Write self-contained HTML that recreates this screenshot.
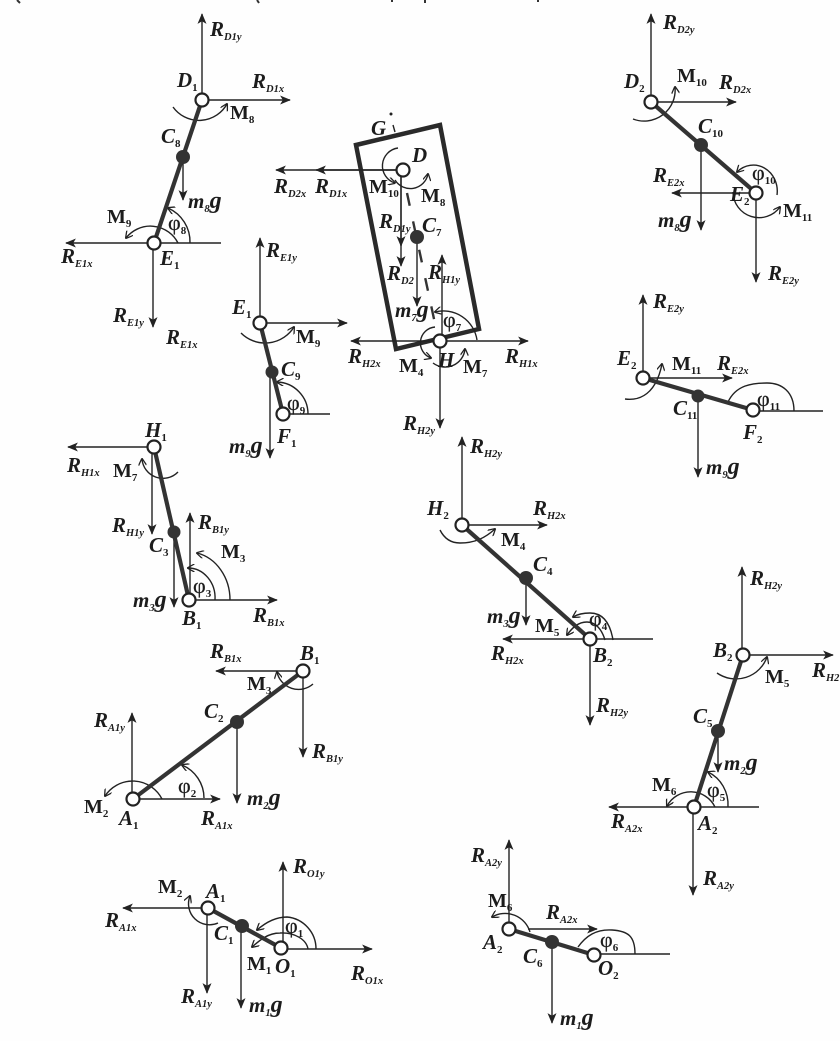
<!DOCTYPE html>
<html><head><meta charset="utf-8"><style>
html,body{margin:0;padding:0;background:#fefefe;width:840px;height:1041px;overflow:hidden}
svg{display:block;filter:blur(.35px)}
text{font-family:"Liberation Serif",serif;fill:#1c1c1c;font-weight:bold}
.r{font-style:italic;font-size:21px}
.p{font-style:italic;font-size:21px}
.m{font-size:20px}
.f{font-size:22px;font-weight:normal;stroke:#1c1c1c;stroke-width:.25px}
.f .n{font-weight:bold;stroke:none}
.g{font-style:italic;font-size:21px}
.g .b{font-size:24px}
.s{font-size:10.5px;font-style:italic}
.n{font-size:11px;font-style:normal}
.a{fill:none;stroke:#222;stroke-width:1.4}
.l{stroke:#222;stroke-width:1.4;fill:none}
.k{stroke:#333;stroke-width:4.2;fill:none}
.o{fill:#fff;stroke:#222;stroke-width:2.2}
.c{fill:#333}
</style></head><body>
<svg width="840" height="1041" viewBox="0 0 840 1041" xmlns="http://www.w3.org/2000/svg">
<defs>
<marker id="h" viewBox="0 0 12 10" refX="11" refY="5" markerWidth="11" markerHeight="9" markerUnits="userSpaceOnUse" orient="auto"><path d="M0 0L12 5L0 10L3 5Z" fill="#222"/></marker>
<marker id="t" viewBox="0 0 10 10" refX="9" refY="5" markerWidth="8" markerHeight="8" markerUnits="userSpaceOnUse" orient="auto"><path d="M1 0L10 5L1 10" fill="none" stroke="#222" stroke-width="1.6"/></marker>
</defs>

<!-- top edge fragments -->
<path d="M17 0L20 3M257 0L259 3M392 0V2M425 0V3M538 0V2" stroke="#333" stroke-width="2" fill="none"/>

<!-- Panel D1-E1 -->
<g class="l">
<path d="M202 100V14" marker-end="url(#h)"/><path d="M202 100H290" marker-end="url(#h)"/>
<path d="M183 157V200" marker-end="url(#h)"/><path d="M154 243H66" marker-end="url(#h)"/>
<path d="M153 243V327" marker-end="url(#h)"/><path d="M154 243H221"/>
<path d="M173 107A32 32 0 0 0 227 104" marker-end="url(#t)"/>
<path d="M190 243A37 37 0 0 0 168 208" marker-end="url(#t)"/>
<path d="M178 243A31 31 0 0 0 126 238" marker-end="url(#t)"/>
</g>
<path class="k" d="M202 100L154 243"/><circle class="c" cx="183" cy="157" r="7"/>
<circle class="o" cx="202" cy="100" r="6.5"/><circle class="o" cx="154" cy="243" r="6.5"/>
<text class="r" x="210" y="36">R<tspan class="s" dy="4">D1y</tspan></text>
<text class="p" x="177" y="87">D<tspan class="n" dy="4">1</tspan></text>
<text class="r" x="252" y="88">R<tspan class="s" dy="4">D1x</tspan></text>
<text class="m" x="230" y="119">M<tspan class="n" dy="4">8</tspan></text>
<text class="p" x="161" y="143">C<tspan class="n" dy="4">8</tspan></text>
<text class="g" x="188" y="208">m<tspan class="s" dy="4">8</tspan><tspan class="b" dy="-4">g</tspan></text>
<text class="m" x="107" y="223">M<tspan class="n" dy="4">9</tspan></text>
<text class="f" x="168" y="230">φ<tspan class="n" dy="4">8</tspan></text>
<text class="r" x="61" y="263">R<tspan class="s" dy="4">E1x</tspan></text>
<text class="p" x="160" y="265">E<tspan class="n" dy="4">1</tspan></text>
<text class="r" x="113" y="322">R<tspan class="s" dy="4">E1y</tspan></text>
<text class="r" x="166" y="344">R<tspan class="s" dy="4">E1x</tspan></text>

<!-- Panel E1-F1 -->
<g class="l">
<path d="M260 323V238" marker-end="url(#h)"/><path d="M260 323H347" marker-end="url(#h)"/>
<path d="M283 414H330"/><path d="M270 372V458" marker-end="url(#h)"/>
<path d="M241 333A34 34 0 0 0 294 327" marker-end="url(#t)"/>
<path d="M308 414A32 32 0 0 0 277 382" marker-end="url(#t)"/>
</g>
<path class="k" d="M260 323L283 414"/><circle class="c" cx="272" cy="372" r="6.5"/>
<circle class="o" cx="260" cy="323" r="6.5"/><circle class="o" cx="283" cy="414" r="6.5"/>
<text class="r" x="266" y="257">R<tspan class="s" dy="4">E1y</tspan></text>
<text class="p" x="232" y="314">E<tspan class="n" dy="4">1</tspan></text>
<text class="m" x="296" y="343">M<tspan class="n" dy="4">9</tspan></text>
<text class="p" x="281" y="376">C<tspan class="n" dy="4">9</tspan></text>
<text class="f" x="287" y="410">φ<tspan class="n" dy="4">9</tspan></text>
<text class="p" x="277" y="443">F<tspan class="n" dy="4">1</tspan></text>
<text class="g" x="229" y="453">m<tspan class="s" dy="4">9</tspan><tspan class="b" dy="-4">g</tspan></text>

<!-- Central body -->
<path d="M356 145L440 125L479 329L396 349Z" fill="none" stroke="#2a2a2a" stroke-width="4.5"/>
<circle cx="391" cy="114" r="1.5" fill="#222"/><path d="M393 125L395 132" class="l"/>
<path d="M407 193L437 333" stroke="#333" stroke-width="2.4" stroke-dasharray="13 16" fill="none"/>
<g class="l">
<path d="M403 170H276" marker-end="url(#h)"/><path d="M403 170H316" marker-end="url(#h)"/>
<path d="M401 172V266" marker-end="url(#h)"/><path d="M401 172V246" marker-end="url(#h)"/>
<path d="M417 237V306" marker-end="url(#h)"/>
<path d="M442 341V255" marker-end="url(#h)"/>
<path d="M440 341H351" marker-end="url(#h)"/><path d="M440 341H528" marker-end="url(#h)"/>
<path d="M440 341V428" marker-end="url(#h)"/>
<path d="M398 148A18 18 0 0 0 395 183" marker-end="url(#t)"/>
<path d="M395 180A18 18 0 0 0 428 174" marker-end="url(#t)"/>
<path d="M477 340A34 34 0 0 0 435 312" marker-end="url(#t)"/>
<path d="M435 327A16 16 0 0 0 431 358" marker-end="url(#t)"/>
<path d="M433 363A20 20 0 0 0 465 349" marker-end="url(#t)"/>
</g>
<circle class="c" cx="417" cy="237" r="7"/>
<circle class="o" cx="403" cy="170" r="6.5"/><circle class="o" cx="440" cy="341" r="6.5"/>
<text class="p" x="371" y="135">G</text>
<text class="p" x="412" y="162">D</text>
<text class="r" x="274" y="193">R<tspan class="s" dy="4">D2x</tspan></text>
<text class="r" x="315" y="193">R<tspan class="s" dy="4">D1x</tspan></text>
<text class="m" x="369" y="193">M<tspan class="n" dy="4">10</tspan></text>
<text class="m" x="421" y="202">M<tspan class="n" dy="4">8</tspan></text>
<text class="r" x="379" y="228">R<tspan class="s" dy="4">D1y</tspan></text>
<text class="p" x="422" y="232">C<tspan class="n" dy="4">7</tspan></text>
<text class="r" x="387" y="280">R<tspan class="s" dy="4">D2</tspan></text>
<text class="r" x="428" y="279">R<tspan class="s" dy="4">H1y</tspan></text>
<text class="g" x="395" y="317">m<tspan class="s" dy="4">7</tspan><tspan class="b" dy="-4">g</tspan></text>
<text class="f" x="443" y="327">φ<tspan class="n" dy="4">7</tspan></text>
<text class="r" x="348" y="363">R<tspan class="s" dy="4">H2x</tspan></text>
<text class="r" x="505" y="363">R<tspan class="s" dy="4">H1x</tspan></text>
<text class="p" x="438" y="367">H</text>
<text class="m" x="399" y="372">M<tspan class="n" dy="4">4</tspan></text>
<text class="m" x="463" y="373">M<tspan class="n" dy="4">7</tspan></text>
<text class="r" x="403" y="430">R<tspan class="s" dy="4">H2y</tspan></text>

<!-- Panel D2-E2 -->
<g class="l">
<path d="M651 102V14" marker-end="url(#h)"/><path d="M651 102H736" marker-end="url(#h)"/>
<path d="M701 145V230" marker-end="url(#h)"/><path d="M756 193H672" marker-end="url(#h)"/>
<path d="M756 193V282" marker-end="url(#h)"/>
<path d="M633 119A31 31 0 0 0 675 87" marker-end="url(#t)"/>
<path d="M777 195A24 26 0 0 0 737 172" marker-end="url(#t)"/>
<path d="M733 192A26 26 0 0 0 780 207" marker-end="url(#t)"/>
</g>
<path class="k" d="M651 102L756 193"/><circle class="c" cx="701" cy="145" r="7"/>
<circle class="o" cx="651" cy="102" r="6.5"/><circle class="o" cx="756" cy="193" r="6.5"/>
<text class="r" x="663" y="29">R<tspan class="s" dy="4">D2y</tspan></text>
<text class="p" x="624" y="88">D<tspan class="n" dy="4">2</tspan></text>
<text class="m" x="677" y="82">M<tspan class="n" dy="4">10</tspan></text>
<text class="r" x="719" y="89">R<tspan class="s" dy="4">D2x</tspan></text>
<text class="p" x="698" y="133">C<tspan class="n" dy="4">10</tspan></text>
<text class="f" x="752" y="180">φ<tspan class="n" dy="4">10</tspan></text>
<text class="r" x="653" y="182">R<tspan class="s" dy="4">E2x</tspan></text>
<text class="p" x="730" y="201">E<tspan class="n" dy="4">2</tspan></text>
<text class="g" x="658" y="227">m<tspan class="s" dy="4">8</tspan><tspan class="b" dy="-4">g</tspan></text>
<text class="m" x="783" y="217">M<tspan class="n" dy="4">11</tspan></text>
<text class="r" x="768" y="280">R<tspan class="s" dy="4">E2y</tspan></text>

<!-- Panel E2-F2 -->
<g class="l">
<path d="M643 378V295" marker-end="url(#h)"/><path d="M643 378H732" marker-end="url(#h)"/>
<path d="M753 411H823"/><path d="M698 396V477" marker-end="url(#h)"/>
<path d="M625 399C640 401 656 394 662 364" marker-end="url(#t)"/>
<path d="M794 411C794 392 782 383 767 383C752 383 736 385 728 402"/>
</g>
<path class="k" d="M643 378L753 410"/><circle class="c" cx="698" cy="396" r="6.5"/>
<circle class="o" cx="643" cy="378" r="6.5"/><circle class="o" cx="753" cy="410" r="6.5"/>
<text class="r" x="653" y="308">R<tspan class="s" dy="4">E2y</tspan></text>
<text class="p" x="617" y="365">E<tspan class="n" dy="4">2</tspan></text>
<text class="m" x="672" y="370">M<tspan class="n" dy="4">11</tspan></text>
<text class="r" x="717" y="370">R<tspan class="s" dy="4">E2x</tspan></text>
<text class="p" x="673" y="415">C<tspan class="n" dy="4">11</tspan></text>
<text class="f" x="757" y="406">φ<tspan class="n" dy="4">11</tspan></text>
<text class="p" x="743" y="439">F<tspan class="n" dy="4">2</tspan></text>
<text class="g" x="706" y="474">m<tspan class="s" dy="4">9</tspan><tspan class="b" dy="-4">g</tspan></text>

<!-- Panel H1-B1 -->
<g class="l">
<path d="M154 447H68" marker-end="url(#h)"/><path d="M152 448V534" marker-end="url(#h)"/>
<path d="M190 600V513" marker-end="url(#h)"/><path d="M174 532V607" marker-end="url(#h)"/>
<path d="M189 600H277" marker-end="url(#h)"/>
<path d="M215 600A27 30 0 0 0 188 568" marker-end="url(#t)"/>
<path d="M230 600A42 48 0 0 0 197 553" marker-end="url(#t)"/>
<path d="M178 472A21 21 0 0 1 142 459" marker-end="url(#t)"/>
</g>
<path class="k" d="M154 447L189 600"/><circle class="c" cx="174" cy="532" r="6.5"/>
<circle class="o" cx="154" cy="447" r="6.5"/><circle class="o" cx="189" cy="600" r="6.5"/>
<text class="p" x="145" y="437">H<tspan class="n" dy="4">1</tspan></text>
<text class="r" x="67" y="472">R<tspan class="s" dy="4">H1x</tspan></text>
<text class="m" x="113" y="477">M<tspan class="n" dy="4">7</tspan></text>
<text class="r" x="112" y="532">R<tspan class="s" dy="4">H1y</tspan></text>
<text class="p" x="149" y="552">C<tspan class="n" dy="4">3</tspan></text>
<text class="r" x="198" y="529">R<tspan class="s" dy="4">B1y</tspan></text>
<text class="m" x="221" y="558">M<tspan class="n" dy="4">3</tspan></text>
<text class="f" x="193" y="593">φ<tspan class="n" dy="4">3</tspan></text>
<text class="g" x="133" y="607">m<tspan class="s" dy="4">3</tspan><tspan class="b" dy="-4">g</tspan></text>
<text class="p" x="182" y="625">B<tspan class="n" dy="4">1</tspan></text>
<text class="r" x="253" y="622">R<tspan class="s" dy="4">B1x</tspan></text>

<!-- Panel A1-B1 -->
<g class="l">
<path d="M303 671H216" marker-end="url(#h)"/><path d="M303 671V757" marker-end="url(#h)"/>
<path d="M237 722V803" marker-end="url(#h)"/><path d="M132 799V713" marker-end="url(#h)"/>
<path d="M133 799H220" marker-end="url(#h)"/>
<path d="M204 798A36 36 0 0 0 182 765" marker-end="url(#t)"/>
<path d="M162 799A33 33 0 0 0 105 796" marker-end="url(#t)"/>
<path d="M313 684A22 22 0 0 1 277 672" marker-end="url(#t)"/>
</g>
<path class="k" d="M303 671L133 799"/><circle class="c" cx="237" cy="722" r="7"/>
<circle class="o" cx="303" cy="671" r="6.5"/><circle class="o" cx="133" cy="799" r="6.5"/>
<text class="r" x="210" y="658">R<tspan class="s" dy="4">B1x</tspan></text>
<text class="p" x="300" y="660">B<tspan class="n" dy="4">1</tspan></text>
<text class="m" x="247" y="690">M<tspan class="n" dy="4">3</tspan></text>
<text class="p" x="204" y="718">C<tspan class="n" dy="4">2</tspan></text>
<text class="r" x="312" y="758">R<tspan class="s" dy="4">B1y</tspan></text>
<text class="r" x="94" y="727">R<tspan class="s" dy="4">A1y</tspan></text>
<text class="f" x="178" y="793">φ<tspan class="n" dy="4">2</tspan></text>
<text class="g" x="247" y="805">m<tspan class="s" dy="4">2</tspan><tspan class="b" dy="-4">g</tspan></text>
<text class="m" x="84" y="813">M<tspan class="n" dy="4">2</tspan></text>
<text class="p" x="119" y="825">A<tspan class="n" dy="4">1</tspan></text>
<text class="r" x="201" y="825">R<tspan class="s" dy="4">A1x</tspan></text>

<!-- Panel A1-O1 -->
<g class="l">
<path d="M208 908H123" marker-end="url(#h)"/><path d="M207 910V993" marker-end="url(#h)"/>
<path d="M241 928V1008" marker-end="url(#h)"/><path d="M283 948V862" marker-end="url(#h)"/>
<path d="M281 949H372" marker-end="url(#h)"/>
<path d="M316 949A32 32 0 0 0 287 917C275 917 265 923 257 930" marker-end="url(#t)"/>
<path d="M308 949A26 18 0 0 0 280 933C268 933 260 940 252 947" marker-end="url(#t)"/>
<path d="M218 923A21 21 0 0 1 190 896" marker-end="url(#t)"/>
</g>
<path class="k" d="M208 908L281 948"/><circle class="c" cx="242" cy="926" r="7"/>
<circle class="o" cx="208" cy="908" r="6.5"/><circle class="o" cx="281" cy="948" r="6.5"/>
<text class="r" x="293" y="873">R<tspan class="s" dy="4">O1y</tspan></text>
<text class="m" x="158" y="893">M<tspan class="n" dy="4">2</tspan></text>
<text class="p" x="206" y="898">A<tspan class="n" dy="4">1</tspan></text>
<text class="r" x="105" y="927">R<tspan class="s" dy="4">A1x</tspan></text>
<text class="p" x="214" y="940">C<tspan class="n" dy="4">1</tspan></text>
<text class="f" x="285" y="933">φ<tspan class="n" dy="4">1</tspan></text>
<text class="m" x="247" y="970">M<tspan class="n" dy="4">1</tspan></text>
<text class="p" x="275" y="973">O<tspan class="n" dy="4">1</tspan></text>
<text class="r" x="351" y="980">R<tspan class="s" dy="4">O1x</tspan></text>
<text class="r" x="181" y="1003">R<tspan class="s" dy="4">A1y</tspan></text>
<text class="g" x="249" y="1012">m<tspan class="s" dy="4">1</tspan><tspan class="b" dy="-4">g</tspan></text>

<!-- Panel A2-O2 -->
<g class="l">
<path d="M509 929V840" marker-end="url(#h)"/><path d="M528 929H597" marker-end="url(#h)"/>
<path d="M552 942V1023" marker-end="url(#h)"/><path d="M594 954H670"/>
<path d="M635 954C635 936 628 931 612 930C596 929 586 936 578 947"/>
<path d="M530 932A26 26 0 0 0 492 917" marker-end="url(#t)"/>
</g>
<path class="k" d="M509 929L594 955"/><circle class="c" cx="552" cy="942" r="7"/>
<circle class="o" cx="509" cy="929" r="6.5"/><circle class="o" cx="594" cy="955" r="6.5"/>
<text class="r" x="471" y="862">R<tspan class="s" dy="4">A2y</tspan></text>
<text class="m" x="488" y="907">M<tspan class="n" dy="4">6</tspan></text>
<text class="r" x="546" y="919">R<tspan class="s" dy="4">A2x</tspan></text>
<text class="p" x="483" y="949">A<tspan class="n" dy="4">2</tspan></text>
<text class="p" x="523" y="963">C<tspan class="n" dy="4">6</tspan></text>
<text class="f" x="600" y="947">φ<tspan class="n" dy="4">6</tspan></text>
<text class="p" x="598" y="975">O<tspan class="n" dy="4">2</tspan></text>
<text class="g" x="560" y="1025">m<tspan class="s" dy="4">1</tspan><tspan class="b" dy="-4">g</tspan></text>

<!-- Panel B2-A2 -->
<g class="l">
<path d="M742 655V567" marker-end="url(#h)"/><path d="M743 655H833" marker-end="url(#h)"/>
<path d="M717 673A33 33 0 0 0 767 657" marker-end="url(#t)"/>
<path d="M694 807H609" marker-end="url(#h)"/><path d="M694 807H759"/>
<path d="M693 807V895" marker-end="url(#h)"/><path d="M718 733V772" marker-end="url(#h)"/>
<path d="M728 807A34 36 0 0 0 708 772" marker-end="url(#t)"/>
<path d="M715 807A27 27 0 0 0 667 806" marker-end="url(#t)"/>
</g>
<path class="k" d="M743 655L694 807"/><circle class="c" cx="718" cy="731" r="7"/>
<circle class="o" cx="743" cy="655" r="6.5"/><circle class="o" cx="694" cy="807" r="6.5"/>
<text class="r" x="750" y="585">R<tspan class="s" dy="4">H2y</tspan></text>
<text class="p" x="713" y="657">B<tspan class="n" dy="4">2</tspan></text>
<text class="m" x="765" y="683">M<tspan class="n" dy="4">5</tspan></text>
<text class="r" x="812" y="677">R<tspan class="s" dy="4">H2</tspan></text>
<text class="p" x="693" y="723">C<tspan class="n" dy="4">5</tspan></text>
<text class="g" x="724" y="770">m<tspan class="s" dy="4">2</tspan><tspan class="b" dy="-4">g</tspan></text>
<text class="m" x="652" y="791">M<tspan class="n" dy="4">6</tspan></text>
<text class="f" x="707" y="797">φ<tspan class="n" dy="4">5</tspan></text>
<text class="r" x="611" y="828">R<tspan class="s" dy="4">A2x</tspan></text>
<text class="p" x="698" y="830">A<tspan class="n" dy="4">2</tspan></text>
<text class="r" x="703" y="885">R<tspan class="s" dy="4">A2y</tspan></text>

<!-- Panel H2-B2 -->
<g class="l">
<path d="M462 525V437" marker-end="url(#h)"/><path d="M462 525H547" marker-end="url(#h)"/>
<path d="M526 578V625" marker-end="url(#h)"/><path d="M590 639H503" marker-end="url(#h)"/>
<path d="M590 639H653"/><path d="M590 639V725" marker-end="url(#h)"/>
<path d="M613 640C610 622 602 613 590 613C583 613 578 614 573 617" marker-end="url(#t)"/>
<path d="M605 640C602 630 596 622 587 622C578 622 572 628 567 635" marker-end="url(#t)"/>
<path d="M440 530C445 540 452 543 460 543C475 543 485 538 495 529" marker-end="url(#t)"/>
</g>
<path class="k" d="M462 525L590 639"/><circle class="c" cx="526" cy="578" r="7"/>
<circle class="o" cx="462" cy="525" r="6.5"/><circle class="o" cx="590" cy="639" r="6.5"/>
<text class="r" x="470" y="453">R<tspan class="s" dy="4">H2y</tspan></text>
<text class="p" x="427" y="515">H<tspan class="n" dy="4">2</tspan></text>
<text class="r" x="533" y="515">R<tspan class="s" dy="4">H2x</tspan></text>
<text class="m" x="501" y="546">M<tspan class="n" dy="4">4</tspan></text>
<text class="p" x="533" y="571">C<tspan class="n" dy="4">4</tspan></text>
<text class="g" x="487" y="623">m<tspan class="s" dy="4">3</tspan><tspan class="b" dy="-4">g</tspan></text>
<text class="m" x="535" y="632">M<tspan class="n" dy="4">5</tspan></text>
<text class="f" x="589" y="626">φ<tspan class="n" dy="4">4</tspan></text>
<text class="r" x="491" y="660">R<tspan class="s" dy="4">H2x</tspan></text>
<text class="p" x="593" y="662">B<tspan class="n" dy="4">2</tspan></text>
<text class="r" x="596" y="712">R<tspan class="s" dy="4">H2y</tspan></text>
</svg>
</body></html>
